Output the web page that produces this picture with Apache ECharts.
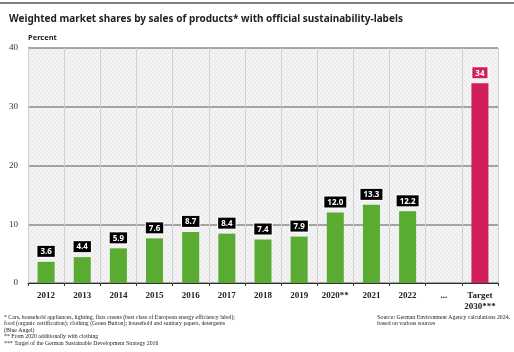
<!DOCTYPE html>
<html>
<head>
<meta charset="utf-8">
<script src="https://cdn.jsdelivr.net/npm/echarts@6/dist/echarts.min.js"></script>
<style>
  html, body { margin: 0; padding: 0; background: #fff; }
  #chart { width: 514px; height: 352px; }
</style>
</head>
<body>
<div id="chart"></div>
<script>
// categories and values
const years = ["2012", "2013", "2014", "2015", "2016", "2017", "2018", "2019", "2020**", "2021", "2022", "...", "Target\n2030***"];
const shares = [3.6, 4.4, 5.9, 7.6, 8.7, 8.4, 7.4, 7.9, 12.0, 13.3, 12.2, null, null];
const target = [null, null, null, null, null, null, null, null, null, null, null, null, 34];
const yTicks = [0, 10, 20, 30, 40];

const font = "'Noto Sans', sans-serif";
const serif = "'Liberation Serif', 'DejaVu Serif', serif";

// hatched background like the original
function hatch() {
  const c = document.createElement("canvas");
  c.width = 4; c.height = 4;
  const ctx = c.getContext("2d");
  ctx.fillStyle = "#f4f4f4";
  ctx.fillRect(0, 0, 4, 4);
  ctx.strokeStyle = "#e6e6e6";
  ctx.lineWidth = 1;
  ctx.beginPath();
  ctx.moveTo(0, 0); ctx.lineTo(4, 4);
  ctx.stroke();
  return c;
}

const labelBox = (bg) => ({
  show: true,
  position: "top",
  distance: 5,
  color: "#fff",
  fontWeight: "bold",
  fontSize: 8,
  fontFamily: font,
  backgroundColor: bg,
  borderColor: "#fff",
  borderWidth: 1,
  padding: [2, 3, 1, 3],
  formatter: (p) => p.value == null ? "" : (p.seriesIndex === 0 ? p.value.toFixed(1) : String(p.value)),
});

let myChart = echarts.init(document.getElementById("chart"));
myChart.setOption({
  animation: false,
  title: {
    text: "Weighted market shares by sales of products* with official sustainability-labels",
    left: 4,
    top: 9,
    textStyle: { fontSize: 10, fontWeight: "bold", color: "#222", fontFamily: font },
  },
  grid: {
    left: 28,
    right: 16,
    top: 48,
    bottom: 69,
    show: true,
    borderWidth: 0,
    backgroundColor: { image: hatch(), repeat: "repeat" },
  },
  xAxis: {
    type: "category",
    data: years,
    axisLine: { lineStyle: { color: "#333", width: 1 } },
    axisTick: { show: true, length: 3, lineStyle: { color: "#333" } },
    axisLabel: {
      interval: 0,
      color: "#222", fontWeight: "bold", fontSize: 9, fontFamily: serif, margin: 7, lineHeight: 11,
    },
    splitLine: { show: true, interval: 0, lineStyle: { color: "#d0d0d0", width: 1 } },
  },
  yAxis: {
    type: "value",
    min: yTicks[0],
    max: yTicks[yTicks.length - 1],
    interval: 10,
    name: "Percent",
    nameLocation: "end",
    nameGap: 6,
    nameTextStyle: { align: "left", color: "#222", fontWeight: "bold", fontSize: 7.5, fontFamily: font },
    axisLine: { show: false },
    axisTick: { show: false },
    axisLabel: { color: "#333", fontSize: 9, fontFamily: serif, margin: 10 },
    splitLine: { show: true, lineStyle: { color: "#8a8a8a", width: 1.5 } },
  },
  series: [
    {
      name: "share",
      type: "bar",
      data: shares,
      barWidth: 17,
      barGap: "-100%",
      itemStyle: { color: "#5aab32" },
      label: labelBox("#000"),
    },
    {
      name: "target",
      type: "bar",
      data: target,
      barWidth: 17,
      barGap: "-100%",
      itemStyle: { color: "#d21e5a" },
      label: labelBox("#d21e5a"),
    },
  ],
  graphic: [
    { type: "line", shape: { x1: 0, y1: 3, x2: 514, y2: 3 }, style: { stroke: "#555", lineWidth: 1.5 } },
    {
      type: "text", left: 4, top: 314,
      style: {
        text: "* Cars, household appliances, lighting, flats creens (best class of European energy efficiency label);\nfood (organic certification); clothing (Green Button); household and sanitary papers, detergents\n(Blue Angel)\n** From 2020 additionally with clothing\n*** Target of the German Sustainable Development Strategy 2016",
        font: "5.8px " + serif, fill: "#222", lineHeight: 6.5,
      },
    },
    {
      type: "text", right: 4, top: 314,
      style: {
        text: "Source: German Environment Agency calculations 2024,\nbased on various sources",
        font: "5.8px " + serif, fill: "#222", lineHeight: 6.5, align: "right",
      },
    },
  ],
});
</script>
</body>
</html>
